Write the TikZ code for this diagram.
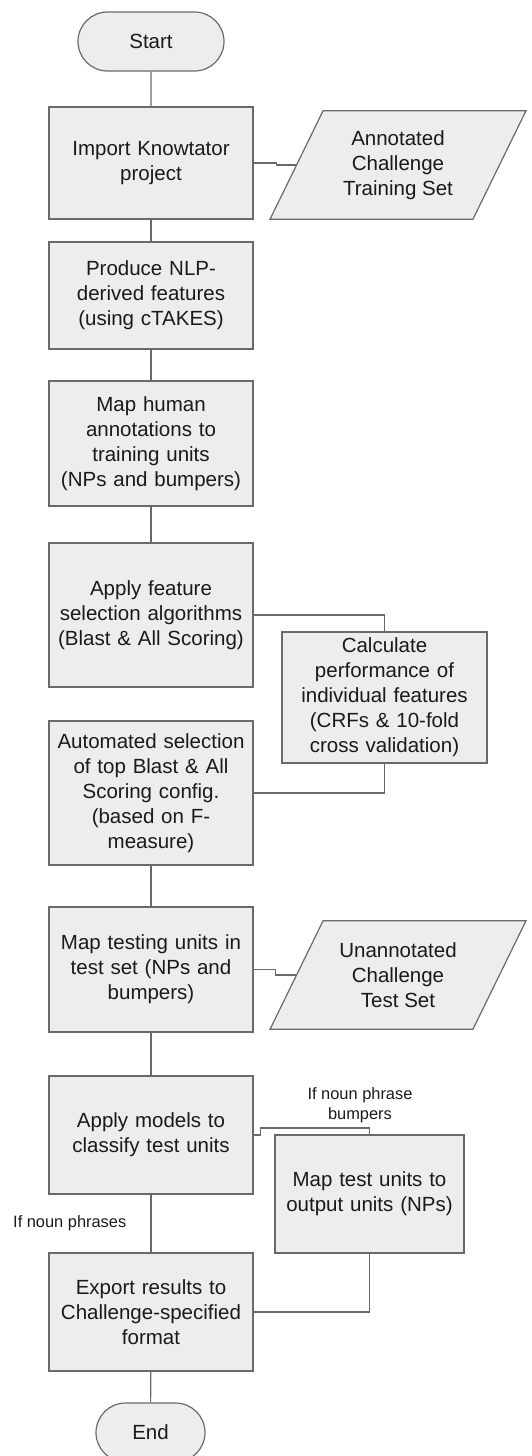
\documentclass[tikz,border=0pt]{standalone}
\usepackage{fontspec}
\setmainfont{Liberation Sans}
\usetikzlibrary{shapes.misc,calc,backgrounds}
\definecolor{boxfill}{HTML}{EDEDED}
\definecolor{boxline}{HTML}{6A6A6A}
\definecolor{txt}{HTML}{1A1A1A}
\tikzset{
  proc/.style={rectangle, draw=boxline, fill=boxfill, line width=1.2pt,
    minimum width=204pt, text width=200pt, align=center, inner sep=0pt,
    font=\fontsize{20.5}{25}\selectfont, text=txt},
  term/.style={rounded rectangle, draw=boxline, fill=boxfill, line width=1.2pt,
    minimum height=59pt, inner sep=0pt, font=\fontsize{20.5}{25}\selectfont, text=txt},
  io/.style={rectangle, minimum width=202.5pt, minimum height=108pt, inner sep=0pt,
    align=center, font=\fontsize{20.5}{25}\selectfont, text=txt},
  para/.style={draw=boxline, fill=boxfill, line width=1.2pt, line join=miter},
  link/.style={draw=boxline, line width=1.2pt},
  lbl/.style={font=\fontsize{16.4}{20}\selectfont, align=center, text=txt, inner sep=0pt}
}
\begin{document}
\begin{tikzpicture}[x=1pt,y=-1pt]
\useasboundingbox (0,0) rectangle (532,1456);
\begin{scope}
\clip (0,0) rectangle (532,1456);
% nodes
\node[term, minimum width=146pt] (start) at (151,41.5) {Start};
\node[proc, minimum height=112pt] (imp) at (151,163) {Import Knowtator\\project};
\node[io] (ann) at (398,165) {Annotated\\Challenge\\Training Set};
\node[proc, minimum height=107pt] (prod) at (151,295.5) {Produce NLP-\\derived features\\(using cTAKES)};
\node[proc, minimum height=125pt] (hum) at (151,443.5) {Map human\\annotations to\\training units\\(NPs and bumpers)};
\node[proc, minimum height=144pt] (feat) at (151,615) {Apply feature\\selection algorithms\\(Blast \& All Scoring)};
\node[proc, minimum width=205pt, text width=203pt, minimum height=131pt] (calc) at (384.5,697.5) {Calculate\\performance of\\individual features\\(CRFs \& 10-fold\\cross validation)};
\node[proc, minimum height=144pt] (auto) at (151,793) {Automated selection\\of top Blast \& All\\Scoring config.\\(based on F-\\measure)};
\node[proc, minimum height=125pt] (mtest) at (151,969.5) {Map testing units in\\test set (NPs and\\bumpers)};
\node[io] (unann) at (398,975) {Unannotated\\Challenge\\Test Set};
\node[proc, minimum height=118pt] (models) at (151,1135) {Apply models to\\classify test units};
\node[proc, minimum width=189pt, text width=187pt, minimum height=118pt] (mapout) at (369.5,1194) {Map test units to\\output units (NPs)};
\node[proc, minimum height=118pt] (export) at (151,1312) {Export results to\\Challenge-specified\\format};
\node[term, minimum width=109pt] (end) at (150.5,1432.5) {End};
\node[lbl] (lblbump) at (360,1105) {If noun phrase\\bumpers};
\node[lbl, anchor=west] (lblnp) at (13,1223) {If noun phrases};
% parallelograms
\begin{scope}[on background layer]
\draw[para] ($(ann.north west)+(26.5,0)$) -- ($(ann.north east)+(26.5,0)$)
  -- ($(ann.south east)+(-26.5,0)$) -- ($(ann.south west)+(-26.5,0)$) -- cycle;
\draw[para] ($(unann.north west)+(26.5,0)$) -- ($(unann.north east)+(26.5,0)$)
  -- ($(unann.south east)+(-26.5,0)$) -- ($(unann.south west)+(-26.5,0)$) -- cycle;
\end{scope}
% connectors
\draw[link] (start) -- (imp);
\draw[link] (imp.east) -- ++(23,0) |- (ann.west);
\draw[link] (imp) -- (prod);
\draw[link] (prod) -- (hum);
\draw[link] (hum) -- (feat);
\draw[link] (feat.east) -| (calc.north);
\draw[link] (calc.south) |- (auto.east);
\draw[link] (auto) -- (mtest);
\draw[link] (mtest.east) -- ++(22,0) |- (unann.west);
\draw[link] (mtest) -- (models);
\draw[link] (models.east) -- ++(7,0) -- ++(0,-7) -| (mapout.north);
\draw[link] (models) -- (export);
\draw[link] (mapout.south) |- (export.east);
\draw[link] (export) -- (end);
\end{scope}
\end{tikzpicture}
\end{document}
